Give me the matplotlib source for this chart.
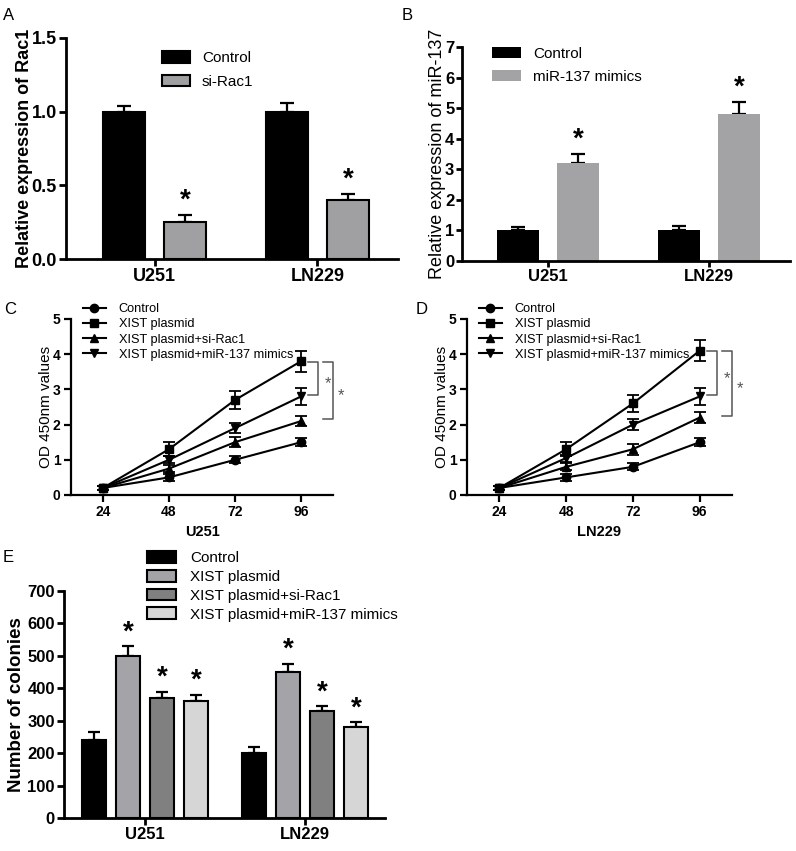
import matplotlib
matplotlib.use("Agg")
import matplotlib.pyplot as plt
import numpy as np
from matplotlib.patches import Patch
from matplotlib.lines import Line2D

plt.rcParams['font.family'] = ['Liberation Sans', 'DejaVu Sans']

# ---------------- data ----------------
cells = ["U251", "LN229"]

# Panel A
a_groups = ["Control", "si-Rac1"]
a_control = [1.00, 1.00]
a_control_err = [0.04, 0.06]
a_sirac1 = [0.25, 0.40]
a_sirac1_err = [0.05, 0.04]

# Panel B
b_groups = ["Control", "miR-137 mimics"]
b_control = [1.0, 1.0]
b_control_err = [0.1, 0.15]
b_mimics = [3.2, 4.8]
b_mimics_err = [0.3, 0.4]

# Panels C / D
hours = [24, 48, 72, 96]
cd_groups = ["Control", "XIST plasmid", "XIST plasmid+si-Rac1", "XIST plasmid+miR-137 mimics"]
c_vals = {
    "Control": [0.2, 0.5, 1.0, 1.5],
    "XIST plasmid": [0.2, 1.3, 2.7, 3.8],
    "XIST plasmid+si-Rac1": [0.2, 0.75, 1.5, 2.1],
    "XIST plasmid+miR-137 mimics": [0.2, 1.0, 1.9, 2.8],
}
c_errs = {
    "Control": [0.05, 0.1, 0.1, 0.12],
    "XIST plasmid": [0.05, 0.2, 0.25, 0.3],
    "XIST plasmid+si-Rac1": [0.05, 0.1, 0.15, 0.15],
    "XIST plasmid+miR-137 mimics": [0.05, 0.1, 0.15, 0.25],
}
d_vals = {
    "Control": [0.2, 0.5, 0.8, 1.5],
    "XIST plasmid": [0.2, 1.3, 2.6, 4.1],
    "XIST plasmid+si-Rac1": [0.2, 0.8, 1.3, 2.2],
    "XIST plasmid+miR-137 mimics": [0.2, 1.05, 2.0, 2.8],
}
d_errs = {
    "Control": [0.05, 0.1, 0.1, 0.12],
    "XIST plasmid": [0.05, 0.2, 0.25, 0.3],
    "XIST plasmid+si-Rac1": [0.05, 0.1, 0.15, 0.15],
    "XIST plasmid+miR-137 mimics": [0.05, 0.1, 0.15, 0.25],
}

# Panel E
e_groups = ["Control", "XIST plasmid", "XIST plasmid+si-Rac1", "XIST plasmid+miR-137 mimics"]
e_vals = {
    "Control": [240, 200],
    "XIST plasmid": [500, 450],
    "XIST plasmid+si-Rac1": [370, 330],
    "XIST plasmid+miR-137 mimics": [360, 280],
}
e_errs = {
    "Control": [25, 20],
    "XIST plasmid": [30, 25],
    "XIST plasmid+si-Rac1": [20, 15],
    "XIST plasmid+miR-137 mimics": [20, 15],
}
e_star = {"Control": False, "XIST plasmid": True,
          "XIST plasmid+si-Rac1": True, "XIST plasmid+miR-137 mimics": True}

# ---------------- figure ----------------
W, H = 796, 851
fig = plt.figure(figsize=(W / 100, H / 100), dpi=100)


def ax_px(left, top, right, bottom):
    return fig.add_axes([left / W, 1 - bottom / H, (right - left) / W, (bottom - top) / H])


def style(ax, lw=2.0, ticklen=4, pad=1.5):
    ax.spines['top'].set_visible(False)
    ax.spines['right'].set_visible(False)
    ax.spines['left'].set_linewidth(lw)
    ax.spines['bottom'].set_linewidth(lw)
    ax.tick_params(width=lw, length=ticklen, direction='out', pad=pad)


def bar_err(ax, x, y, e, lw=1.6, cap=5):
    ax.errorbar(x, y, yerr=[np.zeros(len(e)), e], fmt='none', ecolor='black',
                elinewidth=lw, capsize=cap, capthick=lw, zorder=1)


# ---------------- Panel A ----------------
axA = ax_px(66, 38, 398, 259)
x = np.arange(len(cells))
wA, offA = 0.256, 0.189
axA.bar(x - offA, a_control, wA, color='black', edgecolor='black', lw=1.5, zorder=2)
axA.bar(x + offA, a_sirac1, wA, color='#a0a0a3', edgecolor='black', lw=1.5, zorder=2)
bar_err(axA, x - offA, a_control, a_control_err)
bar_err(axA, x + offA, a_sirac1, a_sirac1_err)
for xi, v, e in zip(x + offA, a_sirac1, a_sirac1_err):
    axA.text(xi, v + e + 0.01, "*", ha='center', va='bottom', fontsize=20, fontweight='bold')
axA.set_xlim(-0.543, 1.494)
axA.set_ylim(0, 1.5)
axA.set_yticks([0, 0.5, 1.0, 1.5])
axA.set_yticklabels(["0.0", "0.5", "1.0", "1.5"])
axA.set_xticks(x)
axA.set_xticklabels(cells)
style(axA, ticklen=5)
for lab in axA.get_xticklabels() + axA.get_yticklabels():
    lab.set_fontweight('bold'); lab.set_fontsize(13)
axA.set_ylabel("Relative expression of Rac1", fontsize=13, fontweight='bold', labelpad=-1)
hA = [Patch(facecolor='black', edgecolor='black', lw=1.5),
      Patch(facecolor='#a0a0a3', edgecolor='black', lw=1.5)]
axA.legend(hA, a_groups, loc='upper left', bbox_to_anchor=(0.29, 0.94), frameon=False,
           fontsize=11, handlelength=1.8, handleheight=0.8, labelspacing=0.6,
           handletextpad=0.8, borderaxespad=0, borderpad=0)

# ---------------- Panel B ----------------
axB = ax_px(462, 47, 790, 261)
wB, offB = 0.26, 0.186
axB.bar(x - offB, b_control, wB, color='black', zorder=2)
axB.bar(x + offB, b_mimics, wB, color='#a3a3a5', zorder=2)
bar_err(axB, x - offB, b_control, b_control_err)
bar_err(axB, x + offB, b_mimics, b_mimics_err)
for xi, v, e in zip(x + offB, b_mimics, b_mimics_err):
    axB.text(xi, v + e + 0.05, "*", ha='center', va='bottom', fontsize=20, fontweight='bold')
axB.set_xlim(-0.534, 1.503)
axB.set_ylim(0, 7)
axB.set_yticks(range(0, 8))
axB.set_xticks(x)
axB.set_xticklabels(cells)
style(axB)
for lab in axB.get_xticklabels() + axB.get_yticklabels():
    lab.set_fontweight('bold'); lab.set_fontsize(12)
axB.set_ylabel("Relative expression of miR-137", fontsize=13, labelpad=-1)
hB = [Patch(facecolor='black'), Patch(facecolor='#a3a3a5')]
axB.legend(hB, b_groups, loc='upper left', bbox_to_anchor=(0.09, 1.0), frameon=False,
           fontsize=11, handlelength=1.9, handleheight=0.7, labelspacing=0.6,
           handletextpad=0.8, borderaxespad=0, borderpad=0)

# ---------------- Panels C / D ----------------
markers = {"Control": 'o', "XIST plasmid": 's',
           "XIST plasmid+si-Rac1": '^', "XIST plasmid+miR-137 mimics": 'v'}


def line_panel(ax, vals, errs, xlabel):
    for g in cd_groups:
        ax.errorbar(hours, vals[g], yerr=errs[g], color='black', lw=1.5,
                    marker=markers[g], ms=6, capsize=4, capthick=1.3, elinewidth=1.3,
                    clip_on=False, zorder=3)
    ax.set_xlim(12.4, 107.6)
    ax.set_ylim(0, 5)
    ax.set_xticks(hours)
    ax.set_yticks(range(0, 6))
    style(ax, lw=1.6, ticklen=5, pad=2.5)
    for lab in ax.get_xticklabels() + ax.get_yticklabels():
        lab.set_fontweight('bold'); lab.set_fontsize(10)
    ax.set_xlabel(xlabel, fontsize=10.5, fontweight='bold', labelpad=4)
    ax.set_ylabel("OD 450nm values", fontsize=11, labelpad=0)
    hs = [Line2D([0], [0], color='black', lw=1.5, marker=markers[g], ms=6) for g in cd_groups]
    ax.legend(hs, cd_groups, loc='upper left', bbox_to_anchor=(0.045, 1.09), frameon=False,
              fontsize=9.2, handlelength=1.8, labelspacing=0.25, handletextpad=1.0,
              borderaxespad=0, borderpad=0)
    # significance brackets (from XIST plasmid at 96 h to the two rescue groups)
    top = vals["XIST plasmid"][-1] - 0.02
    bot1 = vals["XIST plasmid+miR-137 mimics"][-1] + 0.05
    bot2 = vals["XIST plasmid+si-Rac1"][-1] + 0.05
    bc = '#555555'
    ax.plot([98.5, 102.2, 102.2, 98.5], [top, top, bot1, bot1], color=bc, lw=1.1, clip_on=False)
    ax.plot([104.0, 107.6, 107.6, 104.0], [top, top, bot2, bot2], color=bc, lw=1.1, clip_on=False)
    ax.text(105.8, (top + bot1) / 2 - 0.15, "*", color=bc, ha='center', va='center', fontsize=12)
    ax.text(110.6, (top + bot2) / 2 - 0.15, "*", color=bc, ha='center', va='center', fontsize=12)


axC = ax_px(71, 319, 333, 495)
line_panel(axC, c_vals, c_errs, "U251")
axD = ax_px(467, 319, 732, 495)
line_panel(axD, d_vals, d_errs, "LN229")

# ---------------- Panel E ----------------
axE = ax_px(64, 591, 385, 818)
e_colors = ['black', '#a3a3a8', '#808080', '#d6d6d6']
wE, stepE = 0.15, 0.2125
for i, g in enumerate(e_groups):
    xi = x + (i - 1.5) * stepE
    axE.bar(xi, e_vals[g], wE, color=e_colors[i], edgecolor='black', lw=1.5, zorder=2)
    bar_err(axE, xi, e_vals[g], e_errs[g], cap=4.5)
    if e_star[g]:
        for xx, v, e in zip(xi, e_vals[g], e_errs[g]):
            axE.text(xx, v + e + 3, "*", ha='center', va='bottom', fontsize=20, fontweight='bold')
axE.set_xlim(-0.506, 1.5)
axE.set_ylim(0, 700)
axE.set_yticks(range(0, 701, 100))
axE.set_xticks(x)
axE.set_xticklabels(cells)
style(axE, ticklen=5)
for lab in axE.get_xticklabels() + axE.get_yticklabels():
    lab.set_fontweight('bold'); lab.set_fontsize(12)
axE.set_ylabel("Number of colonies", fontsize=13.5, fontweight='bold', labelpad=2)
hE = [Patch(facecolor=c, edgecolor='black', lw=1.5) for c in e_colors]
axE.legend(hE, e_groups, loc='upper left', bbox_to_anchor=(0.26, 1.175), frameon=False,
           fontsize=11, handlelength=1.9, handleheight=0.8, labelspacing=0.3,
           handletextpad=0.9, borderaxespad=0, borderpad=0)

# ---------------- panel letters ----------------
for letter, px, py in [("A", 9, 15), ("B", 407, 15), ("C", 10, 309), ("D", 422, 310), ("E", 8, 558)]:
    fig.text(px / W, 1 - py / H, letter, fontsize=12, ha='center', va='center')

fig.savefig("out.png", dpi=100)
